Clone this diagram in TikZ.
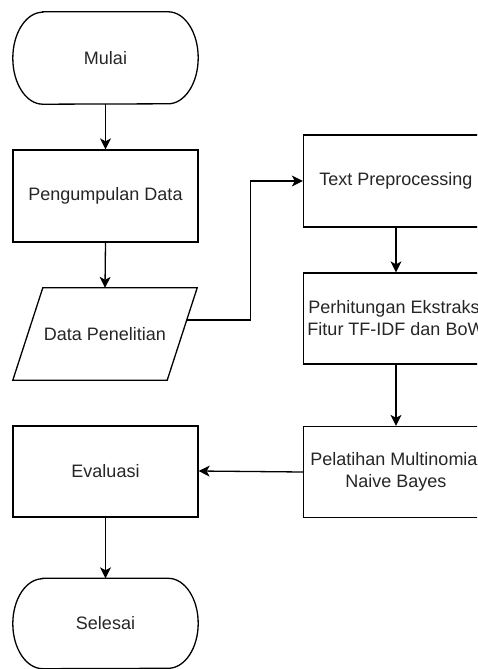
\documentclass[tikz,border=0pt]{standalone}
\usepackage{fontspec}
\setmainfont{Liberation Sans}
\usetikzlibrary{arrows.meta}
\tikzset{
  base/.style={minimum width=185pt, minimum height=92pt, inner sep=0pt, align=center,
    font=\fontsize{18}{22}\selectfont, text=black!85},
  box/.style={base, draw, line width=1.3pt},
  shapeline/.style={line width=1.3pt},
  arr/.style={-{Stealth[length=11pt,width=11pt,inset=3pt]}, line width=1.3pt},
}
\begin{document}
\begin{tikzpicture}[x=1pt,y=-1pt]
\useasboundingbox (0,0) rectangle (477,669);
\clip (0,0) rectangle (477,669);
\fill[white] (0,0) rectangle (477,669);
% nodes
\node[base] (mulai) at (105.5,58) {Mulai};
\draw[shapeline] ([xshift=30pt]mulai.north west) -- ([xshift=-30pt]mulai.north east)
  arc[start angle=-90, end angle=90, x radius=30, y radius=46]
  -- ([xshift=30pt]mulai.south west)
  arc[start angle=90, end angle=270, x radius=30, y radius=46] -- cycle;
\node[box] (kumpul) at (105.5,196) {Pengumpulan Data};
\node[base, minimum width=154pt] (data) at (105,334) {Data Penelitian};
\draw[shapeline] ([xshift=15pt]data.north west) -- ([xshift=15pt]data.north east)
  -- ([xshift=-15pt]data.south east) -- ([xshift=-15pt]data.south west) -- cycle;
\node[box] (tp) at (396,181) {Text Preprocessing};
\node[box, minimum height=91pt] (fitur) at (396,318.5) {Perhitungan Ekstraksi\\Fitur TF-IDF dan BoW};
\node[box, minimum height=91pt] (latih) at (396,472) {Pelatihan Multinomial\\Naive Bayes};
\node[box, minimum height=91pt] (eval) at (105.5,471.5) {Evaluasi};
\node[base, minimum height=90pt] (selesai) at (105.5,623.5) {Selesai};
\draw[shapeline] ([xshift=30pt]selesai.north west) -- ([xshift=-30pt]selesai.north east)
  arc[start angle=-90, end angle=90, x radius=30, y radius=45]
  -- ([xshift=30pt]selesai.south west)
  arc[start angle=90, end angle=270, x radius=30, y radius=45] -- cycle;
\coordinate (dout) at ([shift={(4.6,-14)}]data.east);
% connectors
\draw[arr] (mulai.south) -- (kumpul.north);
\draw[arr] (kumpul.south) -- (data.north);
\draw[arr] (dout) -- ++(63.4,0) |- (tp.west);
\draw[arr] (tp.south) -- (fitur.north);
\draw[arr] (fitur.south) -- (latih.north);
\draw[arr] (latih.west) -- ([yshift=0.5pt]eval.east);
\draw[arr] (eval.south) -- (selesai.north);
\end{tikzpicture}
\end{document}
